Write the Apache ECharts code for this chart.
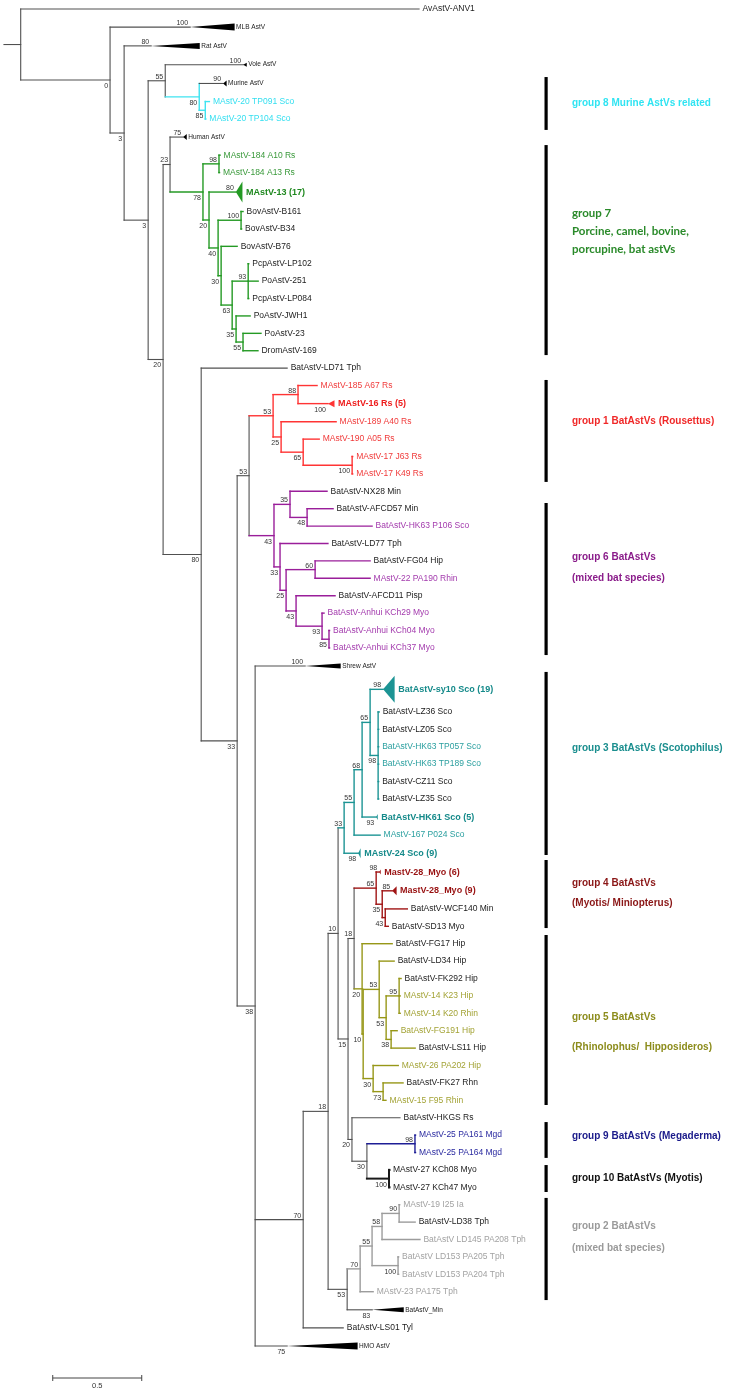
<!DOCTYPE html>
<html>
<head>
<meta charset="utf-8">
<script src="https://cdn.jsdelivr.net/npm/echarts@6/dist/echarts.min.js"></script>
<style>
  html, body { margin: 0; padding: 0; background: #fff; }
  #chart { width: 729px; height: 1390px; }
</style>
</head>
<body>
<div id="chart"></div>
<script>
// internal nodes: id, parent, branch length, bootstrap
const nodes = [
  ['R', null, 0, null],
  ['A', 'R', 0.502, '0'],
  ['B', 'A', 0.079, '3'],
  ['C', 'B', 0.135, '3'],
  ['D', 'C', 0.096, '55'],
  ['F', 'D', 0.191, '80'],
  ['G', 'F', 0.034, '85'],
  ['E', 'C', 0.084, '20'],
  ['H', 'E', 0.039, '23'],
  ['J', 'H', 0.185, '78'],
  ['K', 'J', 0.090, '98'],
  ['L', 'J', 0.034, '20'],
  ['M', 'L', 0.051, '40'],
  ['O', 'M', 0.129, '100'],
  ['P', 'M', 0.017, '30'],
  ['Q', 'P', 0.062, '63'],
  ['Rr', 'Q', 0.090, '93'],
  ['S', 'Q', 0.022, '35'],
  ['T', 'S', 0.039, '55'],
  ['I', 'E', 0.214, '80'],
  ['U', 'I', 0.202, '33'],
  ['V', 'U', 0.067, '53'],
  ['X', 'V', 0.135, '53'],
  ['X1', 'X', 0.140, '88'],
  ['X2', 'X', 0.045, '25'],
  ['X3', 'X2', 0.124, '65'],
  ['X4', 'X3', 0.275, '100'],
  ['Y', 'V', 0.140, '43'],
  ['Y1', 'Y', 0.090, '35'],
  ['Y3', 'Y1', 0.096, '48'],
  ['Y2', 'Y', 0.034, '33'],
  ['Y4', 'Y2', 0.034, '25'],
  ['Y5', 'Y4', 0.163, '60'],
  ['Y6', 'Y4', 0.056, '43'],
  ['Y7', 'Y6', 0.146, '93'],
  ['Y8', 'Y7', 0.039, '85'],
  ['W', 'U', 0.101, '38'],
  ['Z', 'W', 0.270, '70'],
  ['Z1', 'Z', 0.140, '18'],
  ['Z3', 'Z1', 0.056, '10'],
  ['Z5', 'Z3', 0.034, '33'],
  ['Z7', 'Z5', 0.056, '55'],
  ['Z8', 'Z7', 0.045, '68'],
  ['Z9', 'Z8', 0.045, '65'],
  ['Z10', 'Z9', 0.045, '98'],
  ['Z6', 'Z3', 0.056, '15'],
  ['Z11', 'Z6', 0.034, '18'],
  ['G4', 'Z11', 0.124, '65'],
  ['G4b', 'G4', 0.034, '35'],
  ['G4c', 'G4b', 0.017, '43'],
  ['G5', 'Z11', 0.045, '20'],
  ['G5x', 'G5', 0.006, '10'],
  ['G5c', 'G5x', 0.090, '53'],
  ['G5d', 'G5c', 0.039, '53'],
  ['G5e', 'G5d', 0.073, '95'],
  ['G5f', 'G5d', 0.028, '38'],
  ['G5g', 'G5x', 0.056, '30'],
  ['G5h', 'G5g', 0.056, '73'],
  ['Z12', 'Z6', 0.022, '20'],
  ['Z13', 'Z12', 0.084, '30'],
  ['Z14', 'Z13', 0.270, '98'],
  ['Z15', 'Z13', 0.124, '100'],
  ['Z4', 'Z1', 0.107, '53'],
  ['Z16', 'Z4', 0.073, '70'],
  ['Z17', 'Z16', 0.067, '55'],
  ['Z18', 'Z17', 0.056, '58'],
  ['Z20', 'Z18', 0.096, '90'],
  ['Z19', 'Z17', 0.146, '100']
]

// tips, top to bottom: name, parent, branch length, line colour (null = clade), text colour, bold
const tips = [
  ['AvAstV-ANV1', 'R', 2.238, null, 'k', 0],
  ['MLB AstV', 'A', 0.450, 'k', 'k', 0],
  ['Rat AstV', 'B', 0.152, 'k', 'k', 0],
  ['Vole AstV', 'D', 0.438, 'k', 'k', 0],
  ['Murine AstV', 'F', 0.134, 'k', 'k', 0],
  ['MAstV-20 TP091 Sco', 'G', 0.023, null, 'cy', 0],
  ['MAstV-20 TP104 Sco', 'G', 0.003, null, 'cy', 0],
  ['Human AstV', 'H', 0.074, 'k', 'k', 0],
  ['MAstV-184 A10 Rs', 'K', 0.006, null, 'gr', 0],
  ['MAstV-184 A13 Rs', 'K', 0.003, null, 'gr', 0],
  ['MAstV-13 (17)', 'L', 0.151, null, 'gr', 1],
  ['BovAstV-B161', 'O', 0.011, null, 'k', 0],
  ['BovAstV-B34', 'O', 0.003, null, 'k', 0],
  ['BovAstV-B76', 'P', 0.090, null, 'k', 0],
  ['PcpAstV-LP102', 'Rr', 0.003, null, 'k', 0],
  ['PoAstV-251', 'Rr', 0.056, null, 'k', 0],
  ['PcpAstV-LP084', 'Rr', 0.003, null, 'k', 0],
  ['PoAstV-JWH1', 'S', 0.079, null, 'k', 0],
  ['PoAstV-23', 'T', 0.101, null, 'k', 0],
  ['DromAstV-169', 'T', 0.084, null, 'k', 0],
  ['BatAstV-LD71 Tph', 'I', 0.483, null, 'k', 0],
  ['MAstV-185 A67 Rs', 'X1', 0.107, null, 'rd', 0],
  ['MAstV-16 Rs (5)', 'X1', 0.168, null, 'rd', 1],
  ['MAstV-189 A40 Rs', 'X2', 0.309, null, 'rd', 0],
  ['MAstV-190 A05 Rs', 'X3', 0.090, null, 'rd', 0],
  ['MAstV-17 J63 Rs', 'X4', 0.003, null, 'rd', 0],
  ['MAstV-17 K49 Rs', 'X4', 0.003, null, 'rd', 0],
  ['BatAstV-NX28 Min', 'Y1', 0.208, null, 'k', 0],
  ['BatAstV-AFCD57 Min', 'Y3', 0.146, null, 'k', 0],
  ['BatAstV-HK63 P106 Sco', 'Y3', 0.365, null, 'pu', 0],
  ['BatAstV-LD77 Tph', 'Y2', 0.269, null, 'k', 0],
  ['BatAstV-FG04 Hip', 'Y5', 0.309, null, 'k', 0],
  ['MAstV-22 PA190 Rhin', 'Y5', 0.309, null, 'pu', 0],
  ['BatAstV-AFCD11 Pisp', 'Y6', 0.219, null, 'k', 0],
  ['BatAstV-Anhui KCh29 Myo', 'Y7', 0.011, null, 'pu', 0],
  ['BatAstV-Anhui KCh04 Myo', 'Y8', 0.003, null, 'pu', 0],
  ['BatAstV-Anhui KCh37 Myo', 'Y8', 0.003, null, 'pu', 0],
  ['Shrew AstV', 'W', 0.281, 'k', 'k', 0],
  ['BatAstV-sy10 Sco (19)', 'Z9', 0.073, null, 'te', 1],
  ['BatAstV-LZ36 Sco', 'Z10', 0.006, null, 'k', 0],
  ['BatAstV-LZ05 Sco', 'Z10', 0.003, null, 'k', 0],
  ['BatAstV-HK63 TP057 Sco', 'Z10', 0.003, null, 'te', 0],
  ['BatAstV-HK63 TP189 Sco', 'Z10', 0.003, null, 'te', 0],
  ['BatAstV-CZ11 Sco', 'Z10', 0.003, null, 'k', 0],
  ['BatAstV-LZ35 Sco', 'Z10', 0.003, null, 'k', 0],
  ['BatAstV-HK61 Sco (5)', 'Z8', 0.079, null, 'te', 1],
  ['MAstV-167 P024 Sco', 'Z7', 0.146, null, 'te', 0],
  ['MAstV-24 Sco (9)', 'Z5', 0.079, null, 'te', 1],
  ['MastV-28_Myo (6)', 'G4', 0.017, null, 'dr', 1],
  ['MastV-28_Myo (9)', 'G4b', 0.056, null, 'dr', 1],
  ['BatAstV-WCF140 Min', 'G4c', 0.124, null, 'k', 0],
  ['BatAstV-SD13 Myo', 'G4c', 0.017, null, 'k', 0],
  ['BatAstV-FG17 Hip', 'G5', 0.169, null, 'k', 0],
  ['BatAstV-LD34 Hip', 'G5c', 0.084, null, 'k', 0],
  ['BatAstV-FK292 Hip', 'G5e', 0.011, null, 'k', 0],
  ['MAstV-14 K23 Hip', 'G5e', 0.006, null, 'ol', 0],
  ['MAstV-14 K20 Rhin', 'G5e', 0.006, null, 'ol', 0],
  ['BatAstV-FG191 Hip', 'G5f', 0.034, null, 'ol', 0],
  ['BatAstV-LS11 Hip', 'G5f', 0.135, null, 'k', 0],
  ['MAstV-26 PA202 Hip', 'G5g', 0.141, null, 'ol', 0],
  ['BatAstV-FK27 Rhn', 'G5h', 0.112, null, 'k', 0],
  ['MAstV-15 F95 Rhin', 'G5h', 0.016, null, 'ol', 0],
  ['BatAstV-HKGS Rs', 'Z12', 0.270, null, 'k', 0],
  ['MAstV-25 PA161 Mgd', 'Z14', 0.003, null, 'bl', 0],
  ['MAstV-25 PA164 Mgd', 'Z14', 0.003, null, 'bl', 0],
  ['MAstV-27 KCh08 Myo', 'Z15', 0.003, null, 'k', 0],
  ['MAstV-27 KCh47 Myo', 'Z15', 0.003, null, 'k', 0],
  ['MAstV-19 I25 Ia', 'Z20', 0.003, null, 'g2', 0],
  ['BatAstV-LD38 Tph', 'Z20', 0.090, null, 'k', 0],
  ['BatAstV LD145 PA208 Tph', 'Z18', 0.213, null, 'g2', 0],
  ['BatAstV LD153 PA205 Tph', 'Z19', 0.003, null, 'g2', 0],
  ['BatAstV LD153 PA204 Tph', 'Z19', 0.003, null, 'g2', 0],
  ['MAstV-23 PA175 Tph', 'Z16', 0.073, null, 'g2', 0],
  ['BatAstV_Min', 'Z4', 0.141, 'k', 'k', 0],
  ['BatAstV-LS01 Tyl', 'Z', 0.225, null, 'k', 0],
  ['HMO AstV', 'W', 0.180, 'k', 'k', 0]
]

// collapsed clades: tip name -> [depth of the triangle, bootstrap]
const collapsed = {
  'MLB AstV': [0.247, '100'],
  'Rat AstV': [0.270, '80'],
  'Vole AstV': [0.017, '100'],
  'Murine AstV': [0.017, '90'],
  'Human AstV': [0.017, '75'],
  'MAstV-13 (17)': [0.034, '80'],
  'MAstV-16 Rs (5)': [0.034, '100'],
  'Shrew AstV': [0.197, '100'],
  'BatAstV-sy10 Sco (19)': [0.062, '98'],
  'BatAstV-HK61 Sco (5)': [0.006, '93'],
  'MAstV-24 Sco (9)': [0.011, '98'],
  'MastV-28_Myo (6)': [0.006, '98'],
  'MastV-28_Myo (9)': [0.022, '85'],
  'BatAstV_Min': [0.174, '83'],
  'HMO AstV': [0.393, '75']
}

// clade colours set at the clade root
const cladeColour = {
  F: 'cy', J: 'gr', X: 'rd', Y: 'pu', Z5: 'te', G4: 'dr', G5: 'ol', Z14: 'bl', Z15: 'gk', Z16: 'g2'
}

// group annotations on the right
const groupLines = [
  ['group 8 Murine AstVs related', 'cy'],
  ['group 7', 'gr'],
  ['Porcine, camel, bovine,', 'gr'],
  ['porcupine, bat astVs', 'gr'],
  ['group 1 BatAstVs (Rousettus)', 'rd'],
  ['group 6 BatAstVs', 'pu'],
  ['(mixed bat species)', 'pu'],
  ['group 3 BatAstVs (Scotophilus)', 'te'],
  ['group 4 BatAstVs', 'dr'],
  ['(Myotis/ Miniopterus)', 'dr'],
  ['group 5 BatAstVs', 'ol'],
  ['(Rhinolophus/  Hipposideros)', 'ol'],
  ['group 9 BatAstVs (Megaderma)', 'bl'],
  ['group 10 BatAstVs (Myotis)', 'gk'],
  ['group 2 BatAstVs', 'g2'],
  ['(mixed bat species)', 'g2']
]

const scaleBarLength = 0.5

// ---------- layout (rows, pixels) ----------
const lineRows = [5.40, 11.72, 12.76, 13.79, 23.68, 31.49, 32.70, 42.47, 50.23, 51.38, 57.93, 59.66, 64.77, 67.18, 69.94, 71.21]
const barRows = [[3.91, 6.95], [7.82, 19.89], [21.32, 27.18], [28.39, 37.13], [38.10, 48.62],
  [48.91, 52.82], [53.22, 62.99], [63.97, 66.03], [66.44, 67.99], [68.33, 74.20]]
// triangle height (px) and extra row spacing around collapsed tips
const triangleSize = {
  'MLB AstV': [7, 0.04], 'Rat AstV': [6, 0.04], 'Vole AstV': [4, 0.04], 'Murine AstV': [6, 0.04],
  'Human AstV': [6, 0.04], 'MAstV-13 (17)': [21, 0.12], 'MAstV-16 Rs (5)': [7, 0.04],
  'Shrew AstV': [5, 0.04], 'BatAstV-sy10 Sco (19)': [27, 0.3], 'BatAstV-HK61 Sco (5)': [6, 0.04],
  'MAstV-24 Sco (9)': [10, 0.04], 'MastV-28_Myo (6)': [5, 0.04], 'MastV-28_Myo (9)': [9, 0.04],
  'BatAstV_Min': [5, 0.04], 'HMO AstV': [7, 0.04]
}

const lineColours = {
  k: '#505050', cy: '#3fe3f0', gr: '#249a24', rd: '#ff3434', pu: '#9a1e9a', te: '#1c9494',
  dr: '#a01414', ol: '#979718', bl: '#1e1e96', gk: '#1a1a1a', g2: '#9c9c9c'
}
const textColours = {
  k: '#1c1c1c', cy: '#33dff0', gr: '#39993a', rd: '#f03a3a', pu: '#a33aad', te: '#2a9f9f',
  dr: '#9a1414', ol: '#a3a336', bl: '#2a2aa0', gk: '#111111', g2: '#a2a2a2'
}
const boldColours = { gr: '#1f881f', rd: '#ee1d1d', te: '#158a8a', dr: '#981010' }
const groupColours = {
  cy: '#2fe4f2', gr: '#2a8a2a', rd: '#f02828', pu: '#8a1c8a', te: '#1a8e8e', dr: '#8a1616',
  ol: '#8c8c1c', bl: '#1a1a8a', gk: '#111111', g2: '#9a9a9a'
}

// ---------- build tree ----------
const byId = {}
nodes.forEach(([id, parent, bl, boot]) => {
  byId[id] = { id, parent, bl, boot, children: [], isTip: false }
})
let pos = 0
tips.forEach(([name, parent, bl, lineKey, textKey, bold], i) => {
  const pad = triangleSize[name] ? triangleSize[name][1] : 0
  if (i > 0) {
    const prevPad = triangleSize[tips[i - 1][0]] ? triangleSize[tips[i - 1][0]][1] : 0
    pos += 1 + prevPad + pad
  }
  const id = 'tip' + i
  byId[id] = { id, name, parent, bl, lineKey, textKey, bold, children: [], isTip: true, y: pos }
  byId[parent].children.push(id)
})
nodes.forEach(([id, parent]) => { if (parent) byId[parent].children.push(id) })
const totalRows = pos

function place (id, px) {
  const n = byId[id]
  n.x = px + n.bl
  const parentColour = n.parent ? byId[n.parent].colour : 'k'
  n.colour = n.isTip ? (n.lineKey || parentColour) : (cladeColour[id] || parentColour)
  if (!n.isTip) {
    n.children.forEach(c => place(c, n.x))
    const ys = n.children.map(c => byId[c].y)
    n.minY = Math.min(...ys)
    n.maxY = Math.max(...ys)
    n.y = (n.minY + n.maxY) / 2
  }
}
place('R', 0)

// ---------- marks ----------
const marks = []
Object.values(byId).forEach(n => {
  if (n.parent) {
    const p = byId[n.parent]
    marks.push({ kind: 'line', x1: p.x, y1: n.y, x2: n.x, y2: n.y, c: n.colour })
    const sibs = p.children.map(c => byId[c].y)
    const below = n.y === Math.max(...sibs)
    const boot = n.isTip ? (collapsed[n.name] ? collapsed[n.name][1] : null) : n.boot
    if (boot !== null) marks.push({ kind: 'boot', x: n.x, y: n.y, text: boot, below })
  }
  if (!n.isTip) {
    marks.push({ kind: 'line', x1: n.x, y1: n.minY, x2: n.x, y2: n.maxY, c: n.colour })
  } else {
    const col = collapsed[n.name]
    let end = n.x
    if (col) {
      marks.push({ kind: 'tri', x: n.x, y: n.y, depth: col[0], h: triangleSize[n.name][0], c: n.colour })
      end = n.x + col[0]
    }
    const small = col && n.lineKey === 'k'
    marks.push({ kind: 'tip', x: end, y: n.y, text: n.name, t: n.textKey, bold: n.bold, small })
  }
})
// root stub
marks.push({ kind: 'line', x1: -0.094, y1: byId.R.y, x2: 0, y2: byId.R.y, c: 'k' })
marks.push({ kind: 'scale' })
groupLines.forEach((g, i) => marks.push({ kind: 'glabel', text: g[0], c: g[1], row: lineRows[i], i }))
barRows.forEach(b => marks.push({ kind: 'bar', r1: b[0], r2: b[1] }))

const FONT = '"Liberation Sans", Arial, sans-serif'

function renderItem (params, api) {
  const m = marks[params.dataIndex]
  if (m.kind === 'line') {
    const a = api.coord([m.x1, m.y1])
    const b = api.coord([m.x2, m.y2])
    return {
      type: 'line',
      shape: { x1: a[0], y1: a[1], x2: b[0], y2: b[1] },
      style: { stroke: lineColours[m.c], lineWidth: m.c === 'gk' ? 2 : (m.c === 'k' ? 1.1 : 1.4), lineCap: 'square' }
    }
  }
  if (m.kind === 'tri') {
    const a = api.coord([m.x, m.y])
    const b = api.coord([m.x + m.depth, m.y])
    const fill = m.c === 'k' ? '#000' : lineColours[m.c]
    return {
      type: 'polygon',
      shape: { points: [[a[0], a[1]], [b[0] + 0.5, a[1] - m.h / 2], [b[0] + 0.5, a[1] + m.h / 2]] },
      style: { fill }
    }
  }
  if (m.kind === 'tip') {
    const a = api.coord([m.x, m.y])
    const fill = m.bold ? (boldColours[m.t] || textColours[m.t]) : textColours[m.t]
    return {
      type: 'text',
      x: a[0] + (m.small ? 2 : (m.bold ? 4 : 3.5)),
      y: a[1],
      style: {
        text: m.text,
        fill,
        fontSize: m.small ? 6.5 : (m.bold ? 9 : 8.5),
        fontWeight: m.bold ? 'bold' : 'normal',
        fontFamily: FONT,
        align: 'left',
        verticalAlign: 'middle'
      }
    }
  }
  if (m.kind === 'boot') {
    const a = api.coord([m.x, m.y])
    return {
      type: 'text',
      x: a[0] - 2,
      y: m.below ? a[1] + 2.5 : a[1] - 0.5,
      style: {
        text: m.text,
        fill: '#333',
        fontSize: 7,
        fontFamily: FONT,
        align: 'right',
        verticalAlign: m.below ? 'top' : 'bottom'
      }
    }
  }
  if (m.kind === 'scale') {
    const y = api.coord([0, totalRows])[1] + 32
    const a = api.coord([0.18, 0])[0]
    const b = api.coord([0.18 + scaleBarLength, 0])[0]
    const st = { stroke: '#444', lineWidth: 1 }
    return {
      type: 'group',
      children: [
        { type: 'line', shape: { x1: a, y1: y, x2: b, y2: y }, style: st },
        { type: 'line', shape: { x1: a, y1: y - 3, x2: a, y2: y + 3 }, style: st },
        { type: 'line', shape: { x1: b, y1: y - 3, x2: b, y2: y + 3 }, style: st },
        {
          type: 'text',
          x: (a + b) / 2,
          y: y + 4,
          style: { text: String(scaleBarLength), fill: '#333', fontSize: 7.5, fontFamily: FONT, align: 'center', verticalAlign: 'top' }
        }
      ]
    }
  }
  if (m.kind === 'bar') {
    const y1 = api.coord([0, m.r1])[1]
    const y2 = api.coord([0, m.r2])[1]
    return { type: 'rect', shape: { x: 544.5, y: y1, width: 3.2, height: y2 - y1 }, style: { fill: '#000' } }
  }
  if (m.kind === 'glabel') {
    const y = api.coord([0, m.row])[1]
    const lato = m.c === 'gr'
    return {
      type: 'text',
      x: 572,
      y,
      style: {
        text: m.text,
        fill: groupColours[m.c],
        fontSize: lato ? 11.5 : 10,
        fontWeight: 'bold',
        fontFamily: lato ? 'Lato, sans-serif' : FONT,
        align: 'left',
        verticalAlign: 'middle'
      }
    }
  }
  return null
}

const chart = echarts.init(document.getElementById('chart'), null, { renderer: 'canvas' })
chart.setOption({
  animation: false,
  backgroundColor: '#fff',
  grid: { left: 2.9, right: 14.1, top: 9, bottom: 44 },
  xAxis: { type: 'value', min: -0.1, max: 3.9, show: false },
  yAxis: { type: 'value', min: 0, max: totalRows, inverse: true, show: false },
  series: [{
    type: 'custom',
    renderItem,
    clip: false,
    silent: true,
    data: marks.map(m => [m.x !== undefined ? Math.max(-0.1, Math.min(3.9, m.x)) : 0, m.y !== undefined ? m.y : 0])
  }]
})
window.addEventListener('resize', () => chart.resize())
</script>
</body>
</html>
